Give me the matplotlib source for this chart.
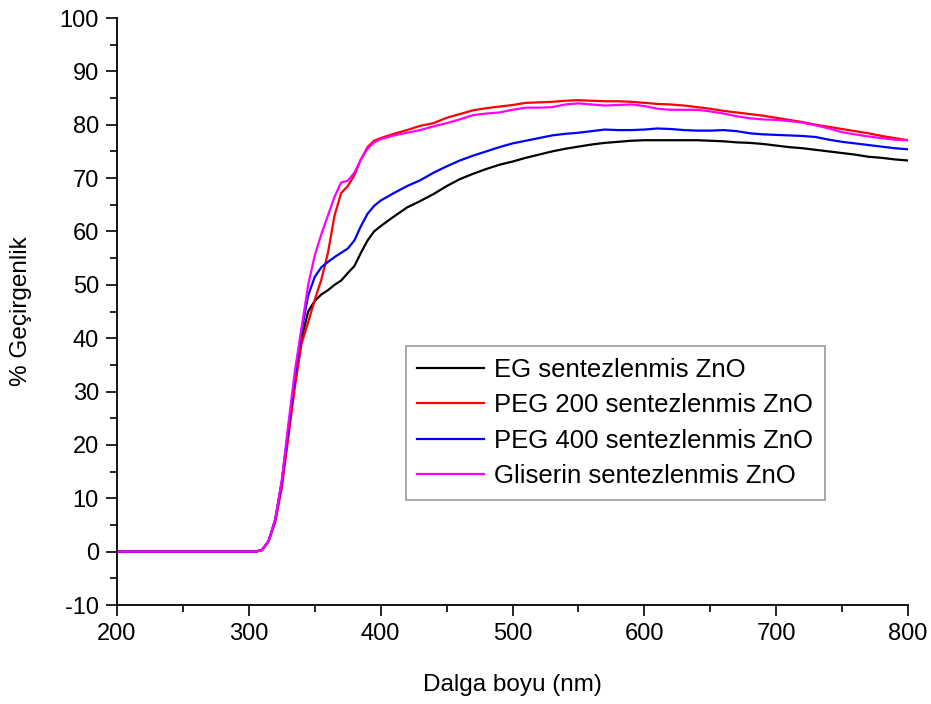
import matplotlib
matplotlib.use("Agg")
import matplotlib.pyplot as plt
from matplotlib.ticker import MultipleLocator

plt.rcParams["font.family"] = ["Liberation Sans", "DejaVu Sans"]
plt.rcParams["axes.unicode_minus"] = False

# wavelength grid (nm)
wl = [200, 305, 310, 315, 320, 325, 330, 335, 340, 345, 350, 355, 360, 365,
      370, 375, 380, 385, 390, 395, 400, 410, 420, 430, 440, 450, 460, 470,
      480, 490, 500, 510, 520, 530, 540, 550, 560, 570, 580, 590, 600, 610,
      620, 630, 640, 650, 660, 670, 680, 690, 700, 710, 720, 730, 740, 750,
      760, 770, 780, 790, 800]

eg = [0, 0, 0.3, 2, 6, 13, 23, 32, 40, 45, 47, 48.2, 49, 50,
      50.8, 52.2, 53.5, 56, 58.3, 60, 61, 62.8, 64.5, 65.7, 67.0, 68.5, 69.8, 70.8,
      71.7, 72.5, 73.1, 73.8, 74.4, 75.0, 75.5, 75.9, 76.3, 76.6, 76.8, 77.0, 77.1, 77.1,
      77.1, 77.1, 77.1, 77.0, 76.9, 76.7, 76.6, 76.4, 76.1, 75.8, 75.6, 75.3, 75.0, 74.7,
      74.4, 74.0, 73.8, 73.5, 73.3]

peg200 = [0, 0, 0.3, 2, 5.5, 12, 21.5, 31, 39, 43, 47.2, 51, 56, 63,
          67.2, 68.5, 70.5, 73.5, 75.8, 77, 77.5, 78.3, 79, 79.8, 80.3, 81.3, 82, 82.7,
          83.1, 83.4, 83.7, 84.1, 84.2, 84.3, 84.5, 84.6, 84.5, 84.4, 84.4, 84.3, 84.1, 83.9,
          83.8, 83.6, 83.3, 83.0, 82.6, 82.3, 82.0, 81.7, 81.3, 80.9, 80.5, 80.0, 79.6, 79.2,
          78.8, 78.4, 77.9, 77.5, 77.1]

peg400 = [0, 0, 0.3, 2, 6, 13, 23, 33, 41.5, 48, 51.5, 53.3, 54.3, 55.2,
          56, 56.8, 58.3, 61, 63.3, 64.8, 65.8, 67.2, 68.5, 69.6, 71, 72.2, 73.3, 74.2,
          75, 75.8, 76.5, 77.0, 77.5, 78.0, 78.3, 78.5, 78.8, 79.1, 79.0, 79.0, 79.1, 79.3,
          79.2, 79.0, 78.9, 78.9, 79.0, 78.8, 78.4, 78.2, 78.1, 78.0, 77.9, 77.7, 77.2, 76.8,
          76.5, 76.2, 75.9, 75.6, 75.4]

gliserin = [0, 0, 0.3, 2, 6, 13.5, 24, 34, 42, 50, 55.5, 59.5, 63, 66.5,
            69.2, 69.5, 71, 73.5, 75.5, 76.7, 77.3, 78, 78.5, 79, 79.7, 80.3, 81, 81.8,
            82.1, 82.3, 82.8, 83.2, 83.2, 83.3, 83.8, 84.0, 83.8, 83.6, 83.7, 83.8, 83.5, 83.0,
            82.8, 82.8, 82.8, 82.5, 82.1, 81.6, 81.2, 81.0, 80.9, 80.7, 80.4, 79.9, 79.3, 78.6,
            78.2, 77.8, 77.5, 77.2, 77.1]

series = [
    (eg, "EG sentezlenmis ZnO", "black"),
    (peg200, "PEG 200 sentezlenmis ZnO", "#ff0000"),
    (peg400, "PEG 400 sentezlenmis ZnO", "#0000ff"),
    (gliserin, "Gliserin sentezlenmis ZnO", "#ff00ff"),
]

fig = plt.figure(figsize=(9.31, 7.04), dpi=100)
ax = fig.add_axes([0.1257, 0.1406, 0.8496, 0.8338])

for vals, name, col in series:
    ax.plot(wl, vals, color=col, lw=1.6, label=name)

ax.set_xlim(200, 800)
ax.set_ylim(-10, 100)
ax.xaxis.set_major_locator(MultipleLocator(100))
ax.xaxis.set_minor_locator(MultipleLocator(50))
ax.yaxis.set_major_locator(MultipleLocator(10))
ax.yaxis.set_minor_locator(MultipleLocator(5))
ax.tick_params(which="major", direction="out", length=8, width=1.2,
               labelsize=17, pad=5)
ax.tick_params(which="minor", direction="out", length=5, width=1.2)
for s in ("top", "right"):
    ax.spines[s].set_visible(False)
for s in ("left", "bottom"):
    ax.spines[s].set_linewidth(1.3)

ax.set_xlabel("Dalga boyu (nm)", fontsize=17.5)
ax.set_ylabel("% Geçirgenlik", fontsize=17.5)
ax.xaxis.set_label_coords(0.5, -0.118)
ax.yaxis.set_label_coords(-0.107, 0.5)

leg = ax.legend(loc="upper left", bbox_to_anchor=(0.365, 0.441), fontsize=18.5,
                fancybox=False, edgecolor="#808080", handlelength=2.6,
                labelspacing=0.45, borderpad=0.45, handletextpad=0.4,
                borderaxespad=0)
leg.get_frame().set_linewidth(1.2)

fig.savefig("out.png", dpi=100)
